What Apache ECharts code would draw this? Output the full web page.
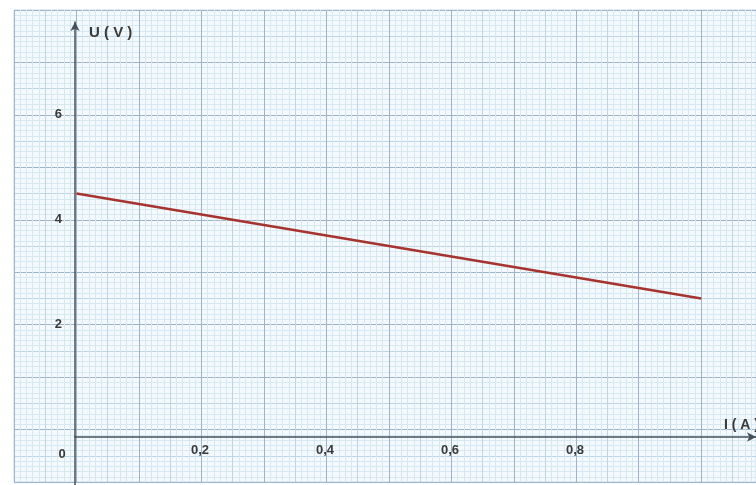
<!DOCTYPE html>
<html><head><meta charset="utf-8">
<script src="https://cdn.jsdelivr.net/npm/echarts@6/dist/echarts.min.js"></script>
<style>html,body{margin:0;padding:0;background:#fff}#c{width:756px;height:485px}</style>
</head><body><div id="c"></div>
<script>
// Data
var currentA = [0, 1.0];          // I (A)
var voltageV = [4.5, 2.5];        // U (V)
var xTickLabels = ['0,2', '0,4', '0,6', '0,8'];
var yTickLabels = ['2', '4', '6'];
var xName = 'I ( A )';
var yName = 'U ( V )';

var seriesData = currentA.map(function (v, i) { return [v, voltageV[i]]; });
var fmtX = function (v) {
  var s = (Math.round(v * 10) / 10).toFixed(1).replace('.', ',');
  if (Math.abs(v) < 1e-9) return '{z|0}';
  return xTickLabels.indexOf(s) >= 0 ? s : '';
};
var fmtY = function (v) { var s = String(Math.round(v)); return (Math.abs(v - Math.round(v)) < 1e-9 && yTickLabels.indexOf(s) >= 0) ? s : ''; };

var nb = {outerBoundsMode: 'none', containLabel: false};
var paper = Object.assign({left: 14, right: 0, top: 10, bottom: 3}, nb);
var chart = echarts.init(document.getElementById('c'), null, {renderer: 'canvas'});
var labelStyle = {color: '#3a3a3a', fontFamily: 'Liberation Sans, Arial, sans-serif', fontWeight: 'bold', fontSize: 13};
var axisColor = '#46505a';

chart.setOption({
  animation: false,
  backgroundColor: '#ffffff',
  grid: [
    Object.assign({show: true, backgroundColor: '#f3f9fd', borderWidth: 1, borderColor: '#c9dbe8'}, paper),
    Object.assign({}, paper),
    Object.assign({left: 75, right: 0, top: 22, bottom: 48}, nb),
    Object.assign({left: 75, right: 0, top: 437, bottom: 0}, nb)
  ],
  xAxis: [
    {gridIndex: 0, type: 'value', min: -0.1, max: 1.0877, interval: 0.05,
     axisLine: {show: false}, axisTick: {show: false}, axisLabel: {show: false},
     splitLine: {show: true, lineStyle: {color: '#bfd5e4', width: 1}},
     minorTick: {show: false, splitNumber: 5},
     minorSplitLine: {show: true, lineStyle: {color: '#d8e8f2', width: 1}}},
    {gridIndex: 1, type: 'value', min: -0.1, max: 1.0877, interval: 0.1,
     axisLine: {show: false}, axisTick: {show: false}, axisLabel: {show: false},
     splitLine: {show: true, lineStyle: {color: '#9fb4c8', width: 1}}},
    {gridIndex: 2, type: 'value', min: 0, max: 1.0896, interval: 0.2, position: 'bottom',
     axisLine: {show: true, onZero: false, symbol: ['none', 'arrow'], symbolSize: [7, 9],
                lineStyle: {color: axisColor, width: 1.5}},
     axisTick: {show: false}, splitLine: {show: false},
     axisLabel: Object.assign({show: true, margin: 7, formatter: fmtX, showMaxLabel: false, hideOverlap: false,
                rich: {z: Object.assign({padding: [4, 26, 0, 0]}, labelStyle)}}, labelStyle),
     name: xName, nameLocation: 'end', nameGap: -32,
     nameTextStyle: Object.assign({}, labelStyle, {fontSize: 14, align: 'left', verticalAlign: 'bottom', padding: [0, 0, 5, 0]})},
    {gridIndex: 3, type: 'value', min: 0, max: 1, show: false}
  ],
  yAxis: [
    {gridIndex: 0, type: 'value', min: -1, max: 8, interval: 0.5,
     axisLine: {show: false}, axisTick: {show: false}, axisLabel: {show: false},
     splitLine: {show: true, lineStyle: {color: '#bfd5e4', width: 1}},
     minorTick: {show: false, splitNumber: 5},
     minorSplitLine: {show: true, lineStyle: {color: '#d8e8f2', width: 1}}},
    {gridIndex: 1, type: 'value', min: -1, max: 8, interval: 1, offset: -61,
     axisLine: {show: false, onZero: false}, axisTick: {show: false},
     axisLabel: Object.assign({show: true, margin: 13, formatter: fmtY}, labelStyle),
     splitLine: {show: true, lineStyle: {color: '#9fb4c8', width: 1}}},
    {gridIndex: 2, type: 'value', min: 0, max: 1, position: 'left',
     axisLine: {show: true, onZero: false, symbol: ['none', 'arrow'], symbolSize: [7, 9],
                lineStyle: {color: axisColor, width: 1.5}},
     axisTick: {show: false}, axisLabel: {show: false}, splitLine: {show: false},
     name: yName, nameLocation: 'end', nameGap: -11,
     nameTextStyle: Object.assign({}, labelStyle, {fontSize: 15, align: 'left', verticalAlign: 'middle', padding: [0, 0, 0, 14]})},
    {gridIndex: 3, type: 'value', min: 0, max: 1, position: 'left',
     axisLine: {show: true, onZero: false, lineStyle: {color: axisColor, width: 1.5}},
     axisTick: {show: false}, axisLabel: {show: false}, splitLine: {show: false}}
  ],
  series: [{
    type: 'line', xAxisIndex: 1, yAxisIndex: 1, data: seriesData,
    showSymbol: false, symbol: 'none',
    lineStyle: {color: '#a8322d', width: 2.5},
    z: 5
  }]
});
</script></body></html>
